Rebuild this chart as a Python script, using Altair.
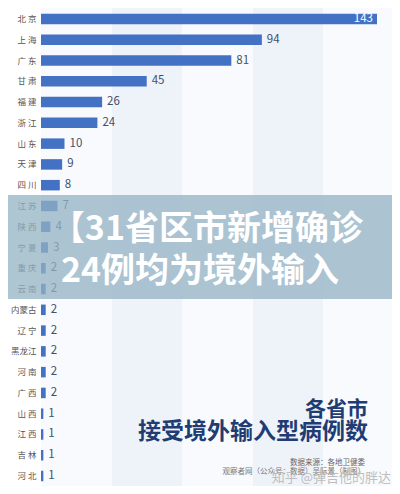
import altair as alt
import pandas as pd

provinces = ["北京", "上海", "广东", "甘肃", "福建", "浙江", "山东", "天津", "四川", "江苏",
             "陕西", "宁夏", "重庆", "云南", "内蒙古", "辽宁", "黑龙江", "河南", "广西",
             "山西", "江西", "吉林", "河北"]
cases = [143, 94, 81, 45, 26, 24, 10, 9, 8, 7, 4, 3, 2, 2, 2, 2, 2, 2, 2, 1, 1, 1, 1]

title_lines = ["【31省区市新增确诊", "24例均为境外输入"]
subtitle_lines = ["各省市", "接受境外输入型病例数"]
source_lines = ["数据来源：各地卫健委", "观察者网（公众号：数据）吴际景（制图）"]
watermark = "知乎 @弹吉他的胖达"

df = pd.DataFrame({"province": provinces, "cases": cases})
FONT = "Noto Sans CJK SC"
one = alt.Data(values=[{}])

y_enc = alt.Y(
    "province:N", sort=provinces,
    scale=alt.Scale(range=[0, 479], paddingInner=0.495, paddingOuter=0.277),
    axis=alt.Axis(title=None, ticks=False, domain=False, labelPadding=5,
                  labelFontSize=8.5, labelColor="#555555", labelFont=FONT,
                  labelExpr="length(datum.label)==2 ? substring(datum.label,0,1)+' '+substring(datum.label,1,2) : datum.label"),
)
x_enc = alt.X("cases:Q", scale=alt.Scale(domain=[0, 143], nice=False, zero=True), axis=None)


def stripe(x0, x1, color):
    return alt.Chart(one).mark_rect(color=color).encode(
        x=alt.value(x0), x2=alt.value(x1), y=alt.value(-8), y2=alt.value(478))


stripes = [
    stripe(0, 71, "#f8fafd"),
    stripe(71, 141, "#eef3fa"),
    stripe(141, 212, "#f8fafd"),
    stripe(212, 282, "#eef3fa"),
    stripe(282, 354, "#f8fafd"),
]

base = alt.Chart(df)
bars = base.mark_bar(color="#4371c4").encode(x=x_enc, y=y_enc)
labels_out = base.transform_filter("datum.cases < 100").mark_text(
    align="left", baseline="middle", dx=5, font=FONT, fontSize=11.5, color="#44506a"
).encode(x=x_enc, y=y_enc, text="cases:Q")
labels_in = base.transform_filter("datum.cases >= 100").mark_text(
    align="right", baseline="middle", dx=-4, font=FONT, fontSize=11.5, color="white"
).encode(x=x_enc, y=y_enc, text="cases:Q")

band = alt.Chart(one).mark_rect(color="#93b1c3", opacity=0.75).encode(
    x=alt.value(-33), x2=alt.value(351), y=alt.value(187), y2=alt.value(291))


def txt(s, x, y, size, color, weight="normal", align="right", opacity=1.0):
    return alt.Chart(one).mark_text(
        font=FONT, fontSize=size, fontWeight=weight, color=color, align=align,
        baseline="middle", opacity=opacity
    ).encode(x=alt.value(x), y=alt.value(y), text=alt.value(s))


big1 = txt(title_lines[0], 322, 222, 34, "white", "bold")
big2 = txt(title_lines[1], 298, 264, 34, "white", "bold")
sub1 = txt(subtitle_lines[0], 327, 402, 21, "#1f3c73", "bold")
sub2 = txt(subtitle_lines[1], 327, 424, 23, "#1f3c73", "bold")
src1 = txt(source_lines[0], 324, 455, 7.5, "#666666")
src2 = txt(source_lines[1], 324, 464, 7.5, "#777777")
wm = txt(watermark, 350, 470, 13, "#b0b0b0", opacity=0.8)

chart = alt.layer(
    *stripes, bars, labels_out, labels_in, band, big1, big2, sub1, sub2, src1, src2, wm
).properties(
    width=336, height=470,
    autosize=alt.AutoSizeParams(type="none"),
    padding={"left": 33, "top": 0, "right": 15, "bottom": 8},
    background="white",
).configure_view(stroke=None)

chart.save("out.html", embed_options={"renderer": "svg", "actions": False})
